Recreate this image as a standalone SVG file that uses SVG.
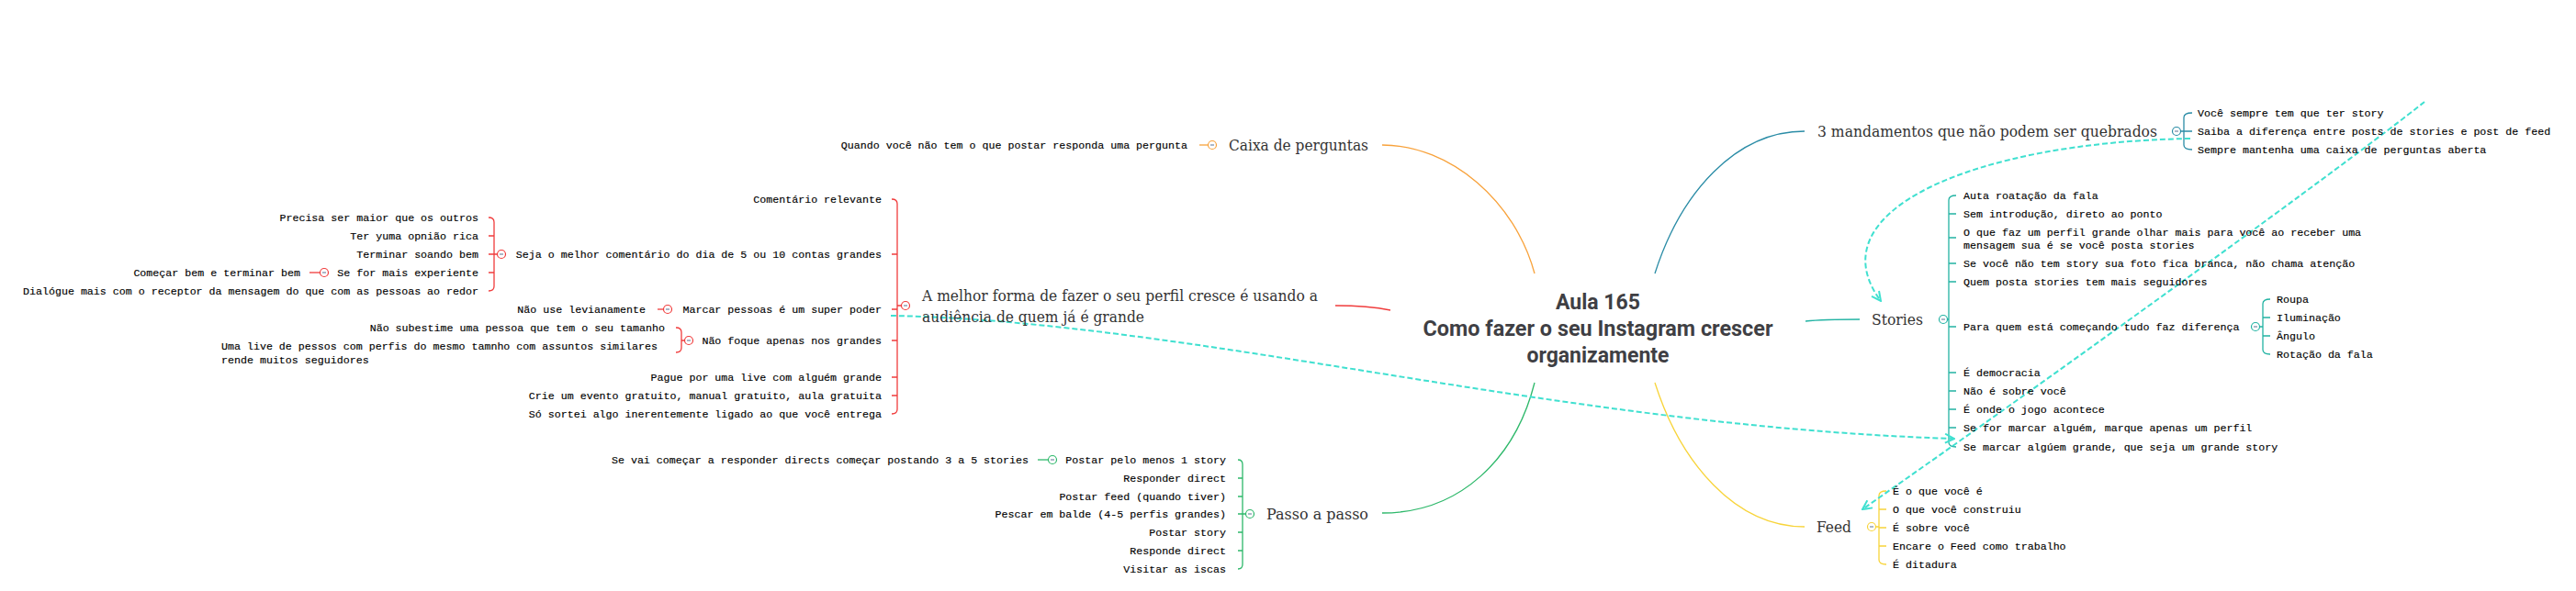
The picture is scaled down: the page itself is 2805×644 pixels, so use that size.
<svg xmlns="http://www.w3.org/2000/svg" width="2805" height="644" viewBox="0 0 2805 644">
<defs>
<style>
.m{font-family:"Liberation Mono","Courier New",monospace;font-size:11.65px;fill:#000;stroke:#000;stroke-width:0.15}
.e{text-anchor:end}
.t{font-family:"DejaVu Serif","Liberation Serif",serif;font-size:16.5px;fill:#333}
.c{font-family:Roboto,"Liberation Sans",sans-serif;font-weight:bold;font-size:24px;fill:#3f3f44;text-anchor:middle}
.l{fill:none;stroke-width:1.3}
.red{stroke:#F03C3C}.org{stroke:#F8A23B}.grn{stroke:#2DB86A}.blu{stroke:#2A8CA6}.tea{stroke:#22B3A3}.yel{stroke:#F8D43A}
.tg{fill:#fff;stroke-width:1.2}
.mn{stroke:#7488a4;stroke-width:1.2}
.rel{fill:none;stroke:#40E0D0;stroke-width:2;stroke-dasharray:6 3}
</style>
<marker id="ah" viewBox="0 0 12 12" refX="11" refY="6" markerWidth="12" markerHeight="12" markerUnits="userSpaceOnUse" orient="auto">
<path d="M1,1 L11,6 L1,11" fill="none" stroke="#40E0D0" stroke-width="2"/>
</marker>
</defs>
<rect width="2805" height="644" fill="#fff"/>

<g id="connectors">
<path class="l org" d="M1671,298 C1650,220 1580,158 1505,158"/>
<path class="l blu" d="M1802,298 C1830,210 1890,143 1965,143"/>
<path class="l red" d="M1514,338 C1490,333 1470,333 1454,333"/>
<path class="l tea" d="M1966,350 C1985,348 2005,348 2025,348"/>
<path class="l grn" d="M1671,417 C1650,500 1590,559 1505,559"/>
<path class="l yel" d="M1802,417 C1830,505 1890,574 1965,574"/>
<path class="l org" d="M1306,158 H1315.5"/>
<path class="l red" d="M971,217 Q977,217 977,222 V446 Q977,451 971,451 M971,277 H977 M971,337 H977 M971,371 H977 M971,411 H977 M971,431 H977 M977,333 H981.5"/>
<path class="l red" d="M532,237 Q538,237 538,242 V312 Q538,317 532,317 M532,257 H538 M532,277 H538 M532,297 H538 M538,277 H541.5"/>
<path class="l red" d="M337,297 H348.5"/>
<path class="l red" d="M716,337 H722.5"/>
<path class="l red" d="M736,357 Q742,357 742,362 V379 Q742,384 736,384 M742,371 H745.5"/>
<path class="l grn" d="M1348,501 Q1353,501 1353,506 V615 Q1353,620 1348,620 M1348,521 H1353 M1348,541 H1353 M1348,560 H1353 M1348,580 H1353 M1348,600 H1353 M1353,560 H1356.5"/>
<path class="l grn" d="M1130,501 H1141.5"/>
<path class="l blu" d="M2387,123 Q2378,123 2378,128 V158 Q2378,163 2387,163 M2378,143 H2387 M2374.5,143 H2378"/>
<path class="l tea" d="M2130,213 Q2122,213 2122,218 V482 Q2122,487 2130,487 M2122,233 H2130 M2122,259 H2130 M2122,287 H2130 M2122,307 H2130 M2122,356 H2130 M2122,406 H2130 M2122,426 H2130 M2122,446 H2130 M2122,466 H2130 M2120.5,348 H2122"/>
<path class="l tea" d="M2472,326 Q2464,326 2464,331 V381 Q2464,386 2472,386 M2464,346 H2472 M2464,366 H2472 M2460.5,356 H2464"/>
<path class="l yel" d="M2054,535 Q2046,535 2046,540 V610 Q2046,615 2054,615 M2046,555 H2054 M2046,575 H2054 M2046,595 H2054 M2042.5,574 H2046"/>
<path class="rel" d="M970,344 C1300,350 1700,465 2128,478" marker-end="url(#ah)"/>
<path class="rel" d="M2385,151 C2150,155 1975,230 2048,328" marker-end="url(#ah)"/>
<path class="rel" d="M2640,111 C2560,175 2250,400 2028,555" marker-end="url(#ah)"/>
</g>

<g id="node-central">
<text class="c" x="1740" y="337" textLength="92" lengthAdjust="spacingAndGlyphs">Aula 165</text>
<text class="c" x="1740" y="366" textLength="381" lengthAdjust="spacingAndGlyphs">Como fazer o seu Instagram crescer</text>
<text class="c" x="1740" y="395" textLength="155" lengthAdjust="spacingAndGlyphs">organizamente</text>
</g>

<g id="node-caixa">
<text class="t" x="1338" y="163.5" textLength="152" lengthAdjust="spacingAndGlyphs">Caixa de perguntas</text>
<circle class="tg org" cx="1320" cy="158" r="4.5"/><path class="mn" d="M1318,158 H1322"/>
<text class="m e" x="1293" y="162">Quando você não tem o que postar responda uma pergunta</text>
</g>

<g id="node-melhor">
<text class="t" x="1004" y="328" textLength="431" lengthAdjust="spacingAndGlyphs">A melhor forma de fazer o seu perfil cresce é usando a</text>
<text class="t" x="1004" y="351" textLength="242" lengthAdjust="spacingAndGlyphs">audiência de quem já é grande</text>
<circle class="tg red" cx="986" cy="333" r="4.5"/><path class="mn" d="M984,333 H988"/>
</g>
<g id="node-melhor-children">
<text class="m e" x="960" y="221">Comentário relevante</text>
<g id="node-seja">
<text class="m e" x="960" y="281">Seja o melhor comentário do dia de 5 ou 10 contas grandes</text>
<circle class="tg red" cx="546" cy="277" r="4.5"/><path class="mn" d="M544,277 H548"/>
<text class="m e" x="521" y="241">Precisa ser maior que os outros</text>
<text class="m e" x="521" y="261">Ter yuma opnião rica</text>
<text class="m e" x="521" y="281">Terminar soando bem</text>
<text class="m e" x="521" y="301">Se for mais experiente</text>
<circle class="tg red" cx="353" cy="297" r="4.5"/><path class="mn" d="M351,297 H355"/>
<text class="m e" x="327" y="301">Começar bem e terminar bem</text>
<text class="m e" x="521" y="321">Dialógue mais com o receptor da mensagem do que com as pessoas ao redor</text>
</g>
<g id="node-marcar">
<text class="m e" x="960" y="341">Marcar pessoas é um super poder</text>
<circle class="tg red" cx="727" cy="337" r="4.5"/><path class="mn" d="M725,337 H729"/>
<text class="m e" x="703" y="341">Não use levianamente</text>
</g>
<g id="node-naofoque">
<text class="m e" x="960" y="375">Não foque apenas nos grandes</text>
<circle class="tg red" cx="750" cy="371" r="4.5"/><path class="mn" d="M748,371 H752"/>
<text class="m e" x="724" y="361">Não subestime uma pessoa que tem o seu tamanho</text>
<text class="m" x="241" y="381">Uma live de pessos com perfis do mesmo tamnho com assuntos similares</text>
<text class="m" x="241" y="396">rende muitos seguidores</text>
</g>
<text class="m e" x="960" y="415">Pague por uma live com alguém grande</text>
<text class="m e" x="960" y="435">Crie um evento gratuito, manual gratuito, aula gratuita</text>
<text class="m e" x="960" y="455">Só sortei algo inerentemente ligado ao que você entrega</text>
</g>

<g id="node-passo">
<text class="t" x="1379" y="565.5" textLength="111" lengthAdjust="spacingAndGlyphs">Passo a passo</text>
<circle class="tg grn" cx="1361" cy="560" r="4.5"/><path class="mn" d="M1359,560 H1363"/>
<text class="m e" x="1335" y="505">Postar pelo menos 1 story</text>
<circle class="tg grn" cx="1146" cy="501" r="4.5"/><path class="mn" d="M1144,501 H1148"/>
<text class="m e" x="1120" y="505">Se vai começar a responder directs começar postando 3 a 5 stories</text>
<text class="m e" x="1335" y="525">Responder direct</text>
<text class="m e" x="1335" y="545">Postar feed (quando tiver)</text>
<text class="m e" x="1335" y="564">Pescar em balde (4-5 perfis grandes)</text>
<text class="m e" x="1335" y="584">Postar story</text>
<text class="m e" x="1335" y="604">Responde direct</text>
<text class="m e" x="1335" y="624">Visitar as iscas</text>
</g>

<g id="node-mandamentos">
<text class="t" x="1979" y="148.5" textLength="370" lengthAdjust="spacingAndGlyphs">3 mandamentos que não podem ser quebrados</text>
<circle class="tg blu" cx="2370" cy="143" r="4.5"/><path class="mn" d="M2368,143 H2372"/>
<text class="m" x="2393" y="127">Você sempre tem que ter story</text>
<text class="m" x="2393" y="147">Saiba a diferença entre posts de stories e post de feed</text>
<text class="m" x="2393" y="167">Sempre mantenha uma caixa de perguntas aberta</text>
</g>

<g id="node-stories">
<text class="t" x="2038" y="353.5" textLength="56" lengthAdjust="spacingAndGlyphs">Stories</text>
<circle class="tg tea" cx="2116" cy="348" r="4.5"/><path class="mn" d="M2114,348 H2118"/>
<text class="m" x="2138" y="217">Auta roatação da fala</text>
<text class="m" x="2138" y="237">Sem introdução, direto ao ponto</text>
<text class="m" x="2138" y="257">O que faz um perfil grande olhar mais para você ao receber uma</text>
<text class="m" x="2138" y="271">mensagem sua é se você posta stories</text>
<text class="m" x="2138" y="291">Se você não tem story sua foto fica branca, não chama atenção</text>
<text class="m" x="2138" y="311">Quem posta stories tem mais seguidores</text>
<g id="node-paraquem">
<text class="m" x="2138" y="360">Para quem está começando tudo faz diferença</text>
<circle class="tg tea" cx="2456" cy="356" r="4.5"/><path class="mn" d="M2454,356 H2458"/>
<text class="m" x="2479" y="330">Roupa</text>
<text class="m" x="2479" y="350">Iluminação</text>
<text class="m" x="2479" y="370">Ângulo</text>
<text class="m" x="2479" y="390">Rotação da fala</text>
</g>
<text class="m" x="2138" y="410">É democracia</text>
<text class="m" x="2138" y="430">Não é sobre você</text>
<text class="m" x="2138" y="450">É onde o jogo acontece</text>
<text class="m" x="2138" y="470">Se for marcar alguém, marque apenas um perfil</text>
<text class="m" x="2138" y="491">Se marcar algúem grande, que seja um grande story</text>
</g>

<g id="node-feed">
<text class="t" x="1978" y="579.5" textLength="38" lengthAdjust="spacingAndGlyphs">Feed</text>
<circle class="tg yel" cx="2038" cy="574" r="4.5"/><path class="mn" d="M2036,574 H2040"/>
<text class="m" x="2061" y="539">É o que você é</text>
<text class="m" x="2061" y="559">O que você construiu</text>
<text class="m" x="2061" y="579">É sobre você</text>
<text class="m" x="2061" y="599">Encare o Feed como trabalho</text>
<text class="m" x="2061" y="619">É ditadura</text>
</g>
</svg>
